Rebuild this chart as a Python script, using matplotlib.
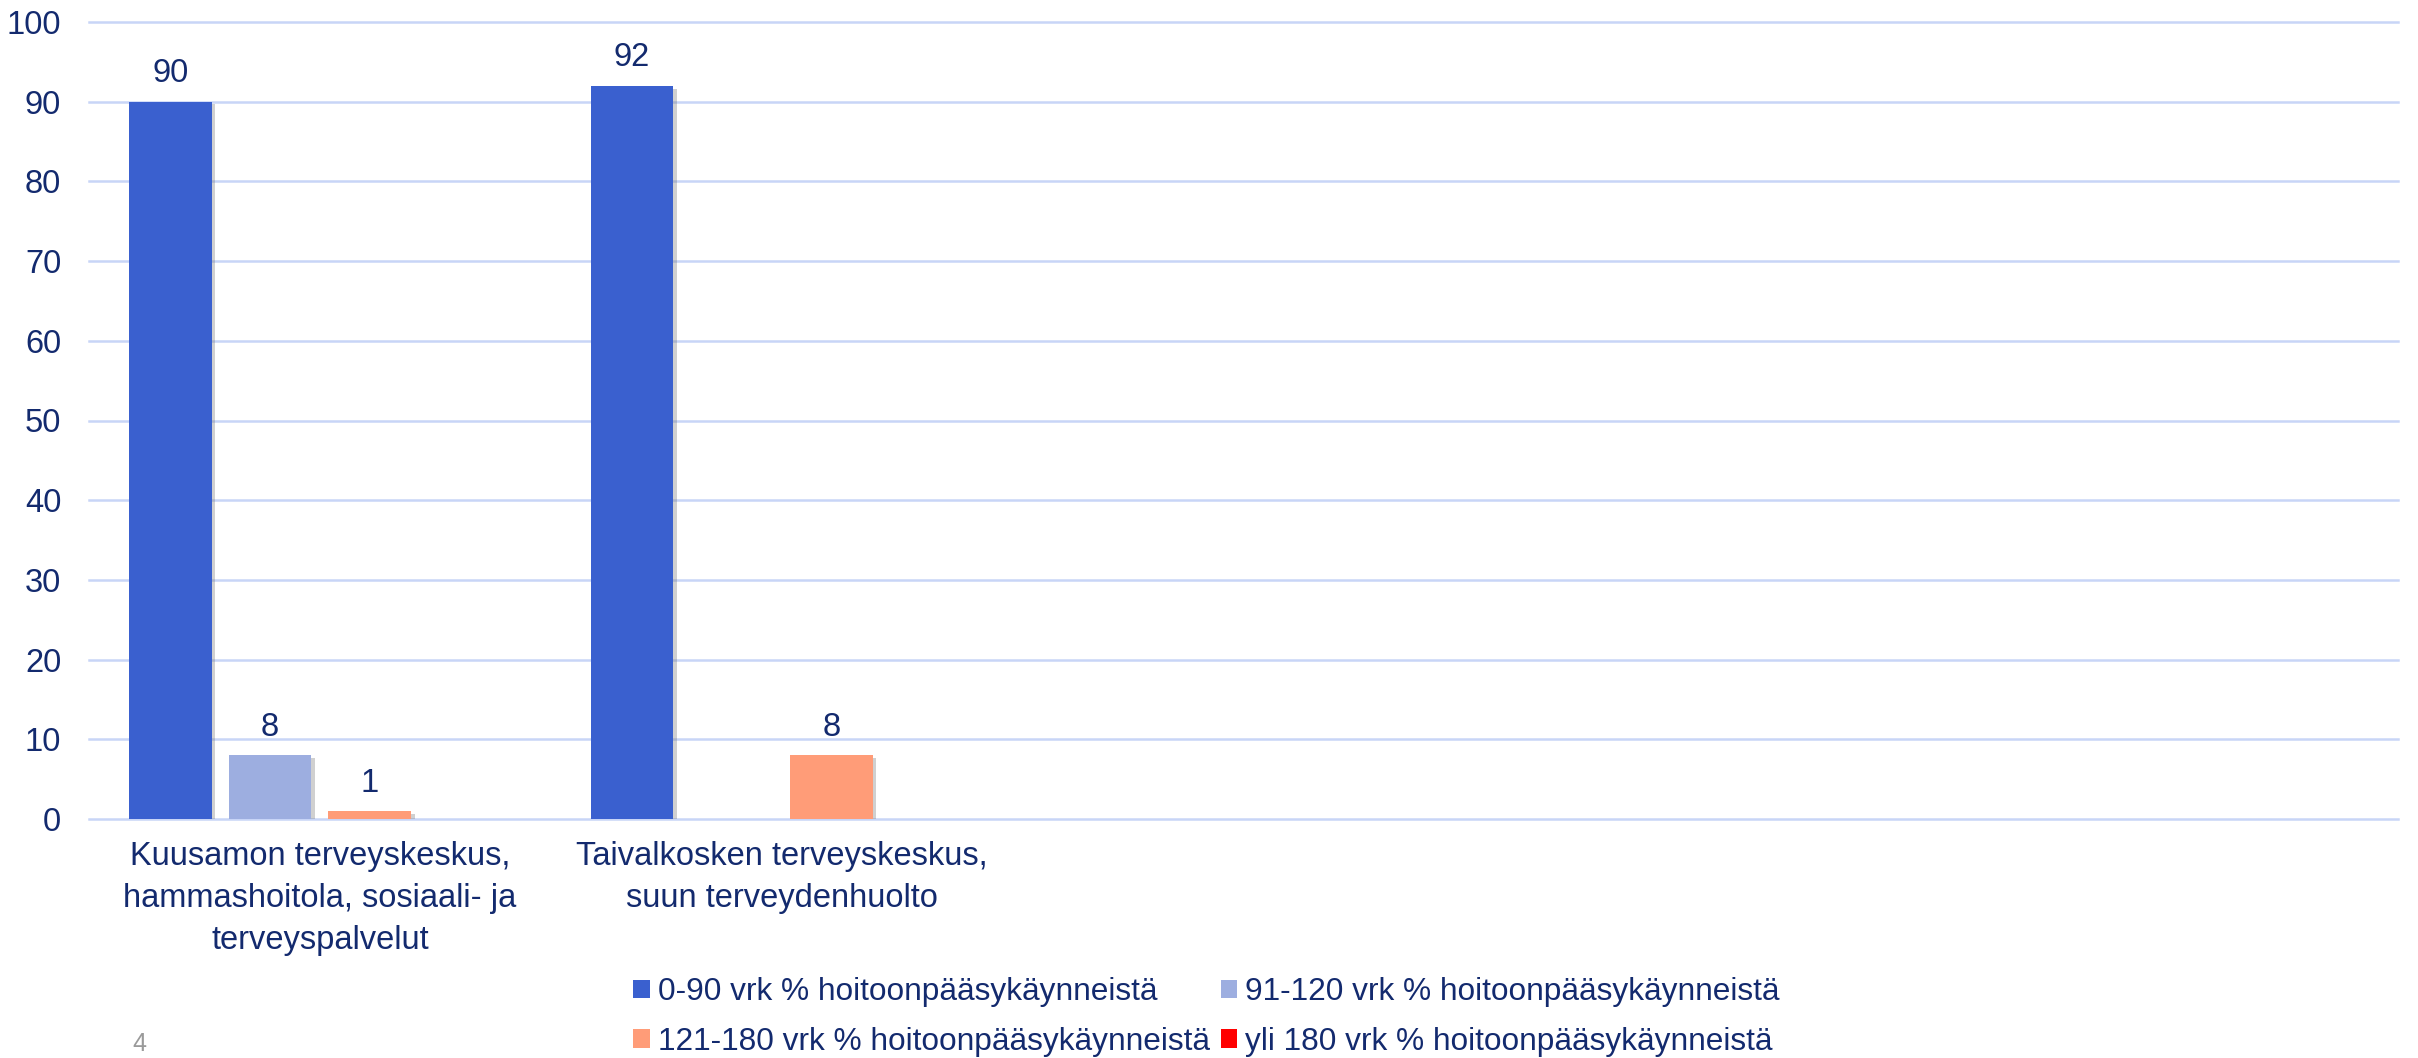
import numpy as np
import matplotlib
matplotlib.use("Agg")
import matplotlib.pyplot as plt
import matplotlib.patheffects as pe
from matplotlib.patches import Patch

plt.rcParams['font.family'] = ['Liberation Sans', 'DejaVu Sans']

# data
categories = [
    "Kuusamon terveyskeskus,\nhammashoitola, sosiaali- ja\nterveyspalvelut",
    "Taivalkosken terveyskeskus,\nsuun terveydenhuolto",
    "", "", "",
]
series_names = [
    "0-90 vrk % hoitoonpääsykäynneistä",
    "91-120 vrk % hoitoonpääsykäynneistä",
    "121-180 vrk % hoitoonpääsykäynneistä",
    "yli 180 vrk % hoitoonpääsykäynneistä",
]
v_0_90 = [90, 92, np.nan, np.nan, np.nan]
v_91_120 = [8, np.nan, np.nan, np.nan, np.nan]
v_121_180 = [1, 8, np.nan, np.nan, np.nan]
v_yli_180 = [np.nan, np.nan, np.nan, np.nan, np.nan]
colors = ['#3A60CF', '#9DAEE0', '#FF9C78', '#FF0000']

text_col = '#132A6E'
grid_col = '#C8D5F7'
fs = 23.5

fig = plt.figure(figsize=(24.18, 10.58), dpi=100)
ax = fig.add_axes([89 / 2418, 1 - 819 / 1058, 2309 / 2418, 797 / 1058])

x = np.arange(len(categories))
width = 0.179
step = 0.216
shadow = [pe.SimplePatchShadow(offset=(2.5, -2), shadow_rgbFace='#666666', alpha=0.3),
          pe.Normal()]

for i, vals in enumerate([v_0_90, v_91_120, v_121_180, v_yli_180]):
    vals = np.array(vals, dtype=float)
    bars = ax.bar(x + (i - 1.5) * step, vals, width, color=colors[i], zorder=3)
    for b in bars:
        b.set_path_effects(shadow)
    labels = ['' if np.isnan(v) else f'{v:g}' for v in vals]
    ax.bar_label(bars, labels=labels, padding=9, fontsize=fs, color=text_col)

ax.set_xlim(-0.5, len(categories) - 0.5)
ax.set_ylim(0, 100)
ax.set_yticks(range(0, 101, 10))
ax.set_xticks(x)
ax.set_xticklabels(categories, fontsize=fs, color=text_col, linespacing=1.46)
ax.tick_params(axis='y', length=0, pad=20, labelsize=fs, labelcolor=text_col)
ax.tick_params(axis='x', length=0, pad=16)
ax.yaxis.grid(True, color=grid_col, linewidth=1.8, zorder=0)
ax.set_axisbelow(True)
for s in ax.spines.values():
    s.set_visible(False)
for gl in ax.get_ygridlines():
    gl.set_clip_on(False)

# legend filled row by row like the slide (matplotlib fills by column)
order = [0, 2, 1, 3]
handles = [Patch(facecolor=colors[k], edgecolor='none') for k in order]
fig.legend(handles, [series_names[k] for k in order], loc='center',
           bbox_to_anchor=(0.499, 1 - 1017 / 1058),
           ncol=2, frameon=False, fontsize=22.8, labelcolor=text_col,
           handlelength=0.52, handleheight=0.52, handletextpad=0.26,
           columnspacing=0.33, labelspacing=0.62, borderpad=0)

# slide page number in the bottom-left corner
fig.text(139 / 2418, 2 / 1058, "4", fontsize=18, color='#9A9A9A', va='bottom', ha='center')

fig.savefig("out.png", dpi=100)
